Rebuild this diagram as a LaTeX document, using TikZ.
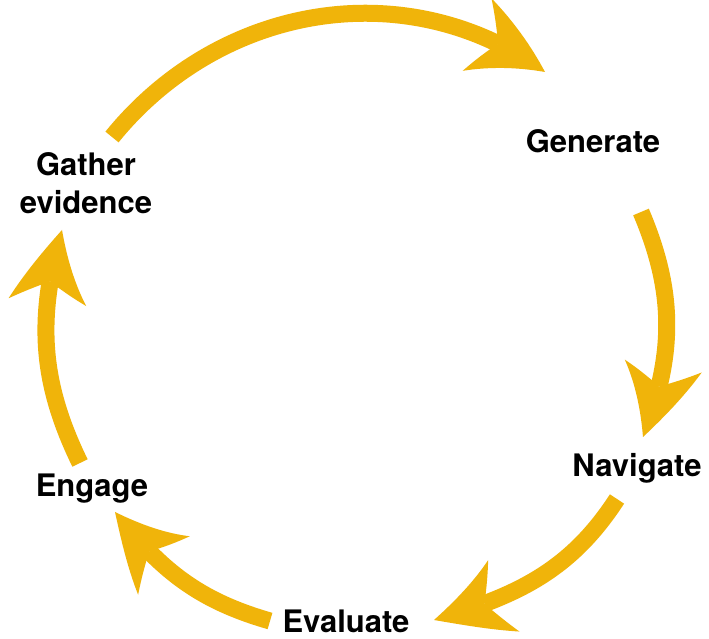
\documentclass[tikz,border=0pt]{standalone}
\usepackage{fontspec}
\setmainfont{TeX Gyre Heros}
\usetikzlibrary{arrows.meta,bending}
\definecolor{gold}{RGB}{240,180,10}
\tikzset{
  cyc/.style={draw=gold, line width=17pt, line cap=butt,
    -{Stealth[length=80pt,width=78pt,inset=24pt,line width=0pt,bend]}},
  lbl/.style={font=\fontsize{31}{38}\selectfont\bfseries, text=black, inner sep=0pt}
}
\begin{document}
\begin{tikzpicture}[x=1pt,y=1pt]
\useasboundingbox (0,0) rectangle (709,639);
\fill[white] (0,0) rectangle (709,639);
% labels
\node[lbl, anchor=base] (gen) at (593,486) {Generate};
\node[lbl, anchor=base] (nav) at (637,162) {Navigate};
\node[lbl, anchor=base] (eva) at (346,6) {Evaluate};
\node[lbl, anchor=base] (eng) at (92,142) {Engage};
\node[lbl, align=center, anchor=center] (gat) at (86,456) {Gather\\evidence};
% arrow end points
\coordinate (a1) at (112,502); \coordinate (b1) at (545,567);
\coordinate (a2) at (641,427); \coordinate (b2) at (643,202);
\coordinate (a3) at (617,140); \coordinate (b3) at (434,19);
\coordinate (a4) at (270,18);  \coordinate (b4) at (115,127);
\coordinate (a5) at (80,176);  \coordinate (b5) at (62,409);
% arrows
\draw[cyc] (a1) to[out=51,in=144] (b1);
\draw[cyc] (a2) to[out=-67,in=69] (b2);
\draw[cyc] (a3) to[out=-123,in=16] (b3);
\draw[cyc] (a4) to[out=164,in=-52] (b4);
\draw[cyc] (a5) to[out=116,in=-106] (b5);
\end{tikzpicture}
\end{document}
